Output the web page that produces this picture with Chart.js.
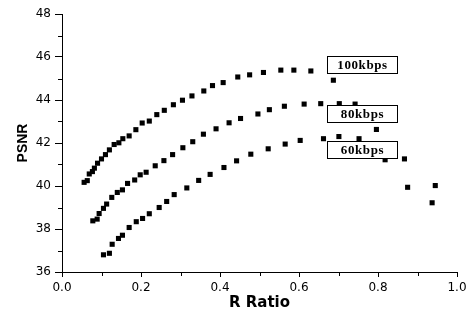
<!DOCTYPE html>
<html>
<head>
<meta charset="utf-8">
<script src="https://cdn.jsdelivr.net/npm/chart.js@4"></script>
<style>
  html, body { margin: 0; padding: 0; background: #fff; }
  #wrap { width: 468px; height: 324px; }
</style>
</head>
<body>
<div id="wrap"><canvas id="psnrChart" width="468" height="324"></canvas></div>
<script>
// series names (shown in the boxed labels)
const seriesNames = ['100kbps', '80kbps', '60kbps'];

// 100kbps
const ratio100 = [0.056, 0.064, 0.069, 0.077, 0.082, 0.090, 0.100, 0.110, 0.120, 0.132, 0.144, 0.154, 0.170, 0.187, 0.203, 0.221, 0.240, 0.259, 0.282, 0.305, 0.329, 0.359, 0.381, 0.408, 0.445, 0.475, 0.510, 0.554, 0.587, 0.630, 0.687];
const psnr100  = [40.17, 40.25, 40.56, 40.67, 40.83, 41.06, 41.26, 41.46, 41.68, 41.93, 42.01, 42.20, 42.33, 42.62, 42.93, 43.02, 43.32, 43.52, 43.78, 43.99, 44.19, 44.42, 44.67, 44.81, 45.07, 45.17, 45.28, 45.39, 45.39, 45.35, 44.92];

// 80kbps
const ratio80 = [0.078, 0.089, 0.094, 0.105, 0.113, 0.126, 0.140, 0.153, 0.166, 0.184, 0.198, 0.213, 0.236, 0.258, 0.280, 0.306, 0.331, 0.358, 0.390, 0.423, 0.452, 0.496, 0.525, 0.563, 0.613, 0.655, 0.702, 0.742, 0.796, 0.867, 0.945];
const psnr80  = [38.38, 38.46, 38.72, 38.96, 39.16, 39.47, 39.70, 39.82, 40.12, 40.28, 40.52, 40.64, 40.94, 41.18, 41.46, 41.78, 42.06, 42.41, 42.66, 42.94, 43.14, 43.35, 43.55, 43.71, 43.81, 43.83, 43.83, 43.81, 42.63, 41.26, 40.02];

// 60kbps
const ratio60 = [0.105, 0.120, 0.127, 0.143, 0.153, 0.170, 0.188, 0.204, 0.221, 0.246, 0.265, 0.284, 0.316, 0.346, 0.375, 0.410, 0.442, 0.478, 0.522, 0.565, 0.603, 0.662, 0.701, 0.752, 0.818, 0.875, 0.937];
const psnr60  = [36.80, 36.87, 37.29, 37.56, 37.71, 38.07, 38.34, 38.49, 38.71, 39.00, 39.28, 39.60, 39.91, 40.26, 40.54, 40.86, 41.17, 41.48, 41.73, 41.95, 42.12, 42.20, 42.30, 42.20, 41.22, 39.94, 39.22];

// axis ticks
const xTicks = [0, 0.2, 0.4, 0.6, 0.8, 1.0];
const yTicks = [36, 38, 40, 42, 44, 46, 48];
const xMinor = [0.1, 0.3, 0.5, 0.7, 0.9];
const yMinor = [37, 39, 41, 43, 45, 47];

function toPoints(xs, ys) {
  return xs.map((x, i) => ({ x: x, y: ys[i] }));
}

const allSeries = [[ratio100, psnr100], [ratio80, psnr80], [ratio60, psnr60]];

const datasets = allSeries.map((s, i) => ({
  label: seriesNames[i],
  data: toPoints(s[0], s[1]),
  showLine: false,
  pointStyle: 'rect',
  pointRadius: 3.6,
  backgroundColor: '#000',
  borderColor: '#000',
  borderWidth: 0
}));

// label boxes: left edge on x value, centre on y value
const labelSpots = [
  { x: 0.67, y: 45.66 },
  { x: 0.67, y: 43.38 },
  { x: 0.67, y: 41.72 }
];

const extras = {
  id: 'extras',
  afterDatasetsDraw(chart) {
    const c = chart.ctx;
    const xs = chart.scales.x, ys = chart.scales.y;
    c.save();
    // minor ticks
    c.strokeStyle = '#000';
    c.lineWidth = 1;
    const bottom = chart.chartArea.bottom, left = chart.chartArea.left;
    xMinor.forEach(v => {
      const px = Math.round(xs.getPixelForValue(v)) + 0.5;
      c.beginPath(); c.moveTo(px, bottom); c.lineTo(px, bottom + 4); c.stroke();
    });
    yMinor.forEach(v => {
      const py = Math.round(ys.getPixelForValue(v)) + 0.5;
      c.beginPath(); c.moveTo(left - 4, py); c.lineTo(left, py); c.stroke();
    });
    // boxed series labels
    c.font = 'bold 13px "Liberation Serif"';
    c.letterSpacing = '0.6px';
    c.textAlign = 'center';
    c.textBaseline = 'middle';
    seriesNames.forEach((name, i) => {
      const bx = Math.round(xs.getPixelForValue(labelSpots[i].x)) + 0.5;
      const by = Math.round(ys.getPixelForValue(labelSpots[i].y) - 8.5) + 0.5;
      c.fillStyle = '#fff';
      c.fillRect(bx, by, 70, 17);
      c.strokeStyle = '#000';
      c.strokeRect(bx, by, 70, 17);
      c.fillStyle = '#000';
      c.fillText(name, bx + 35, by + 9);
    });
    c.restore();
  }
};

const ctx = document.getElementById('psnrChart').getContext('2d');
const myChart = new Chart(ctx, {
  type: 'scatter',
  data: { datasets: datasets },
  plugins: [extras],
  options: {
    responsive: false,
    animation: false,
    layout: { padding: { top: 14, right: 11, left: 0, bottom: 0 } },
    plugins: {
      legend: { display: false },
      tooltip: { enabled: false }
    },
    scales: {
      x: {
        type: 'linear',
        min: 0,
        max: 1,
        afterBuildTicks: axis => { axis.ticks = xTicks.map(v => ({ value: v })); },
        afterFit: axis => { axis.height = 52; axis.paddingRight = 0; axis.paddingLeft = 0; },
        grid: { drawOnChartArea: false, drawTicks: true, tickLength: 5, tickColor: '#000' },
        border: { display: true, color: '#000', width: 1 },
        ticks: {
          color: '#000',
          padding: 4,
          maxRotation: 0,
          font: { family: '"DejaVu Sans"', size: 12 },
          callback: v => v.toFixed(1)
        },
        title: {
          display: true,
          text: 'R Ratio',
          color: '#000',
          font: { family: '"DejaVu Sans"', size: 15, weight: 'bold' },
          padding: { top: 0, bottom: 12 }
        }
      },
      y: {
        type: 'linear',
        min: 36,
        max: 48,
        afterBuildTicks: axis => { axis.ticks = yTicks.map(v => ({ value: v })); },
        afterFit: axis => { axis.width = 62; axis.paddingTop = 0; axis.paddingBottom = 0; },
        grid: { drawOnChartArea: false, drawTicks: true, tickLength: 7, tickColor: '#000' },
        border: { display: true, color: '#000', width: 1 },
        ticks: {
          color: '#000',
          padding: 4,
          font: { family: '"DejaVu Sans"', size: 12 }
        },
        title: {
          display: true,
          text: 'PSNR',
          color: '#000',
          font: { family: '"Liberation Sans"', size: 14, weight: 'bold' },
          padding: { top: 15, bottom: 0 }
        }
      }
    }
  }
});
</script>
</body>
</html>
